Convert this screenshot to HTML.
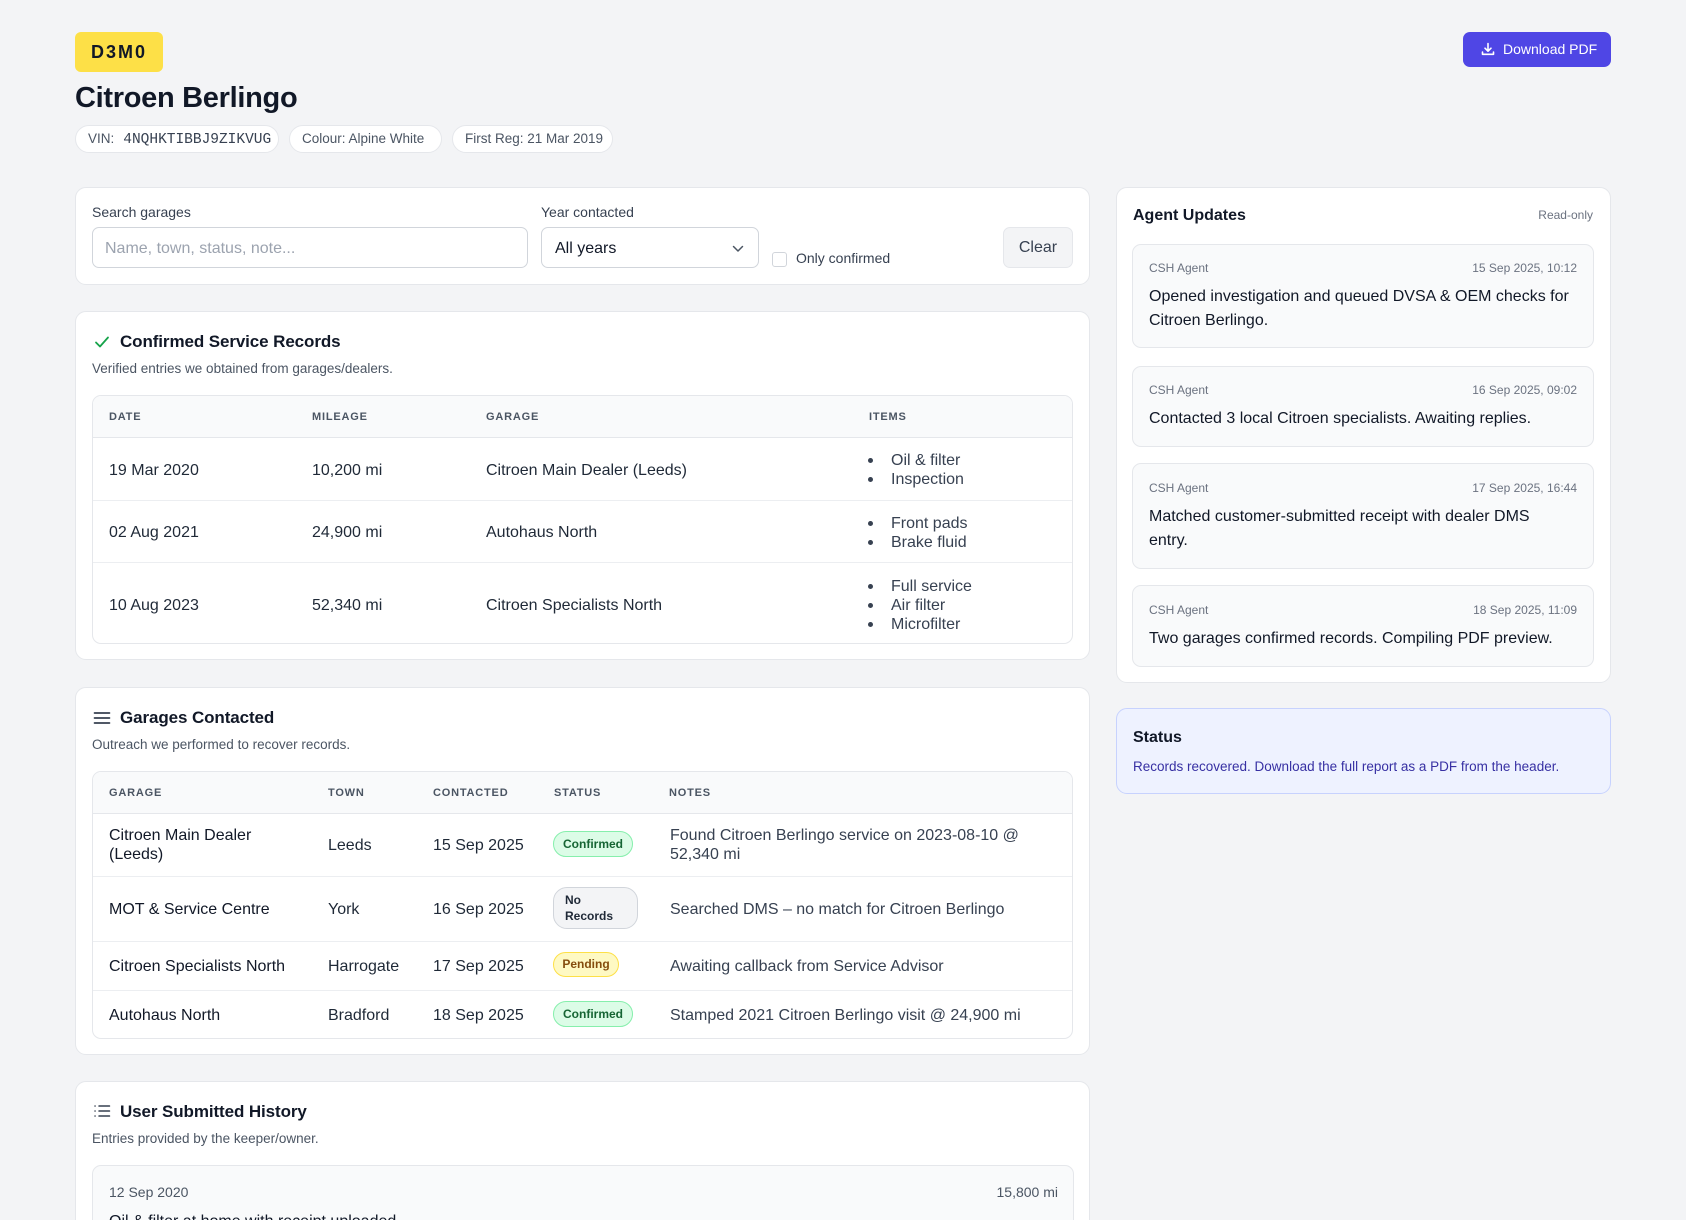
<!DOCTYPE html>
<html><head><meta charset="utf-8">
<style>
*{box-sizing:border-box;margin:0;padding:0}
html,body{width:1686px;height:1220px;overflow:hidden;background:#f3f4f6;font-family:"Liberation Sans",Arial,sans-serif;color:#111827}
#root{position:relative;width:1686px;height:1220px;overflow:hidden;background:#f3f4f6}
.a{position:absolute}
.t{position:absolute;white-space:nowrap}
.card{position:absolute;background:#fff;border:1px solid #e5e7eb;border-radius:11px}
.chip{position:absolute;top:125px;height:28px;background:#fff;border:1px solid #e5e7eb;border-radius:14px;font-size:13.5px;line-height:26px;color:#4b5563;padding-left:12px;white-space:nowrap}
.lbl{font-size:14px;line-height:18px;color:#374151}
.h2{font-size:17px;line-height:22px;font-weight:700;color:#111827;letter-spacing:-0.1px}
.sub{font-size:13.5px;line-height:18px;color:#4b5563}
.th{font-size:11px;line-height:14px;font-weight:700;letter-spacing:0.8px;color:#4b5563}
.td{font-size:16px;line-height:20px;color:#1f2937}
.tbl{position:absolute;border:1px solid #e5e7eb;border-radius:9px;background:#fff;overflow:hidden}
.thead{position:absolute;left:0;top:0;right:0;background:#f9fafb;border-bottom:1px solid #e5e7eb}
.sep{position:absolute;left:0;right:0;height:1px;background:#eceef1}
.bul{position:absolute;width:5px;height:5px;border-radius:50%;background:#374151}
.pill{position:absolute;border-radius:14px;font-size:12px;font-weight:700;line-height:16px;white-space:nowrap}
.pc{background:#dcfce7;border:1px solid #86efac;color:#166534}
.pp{background:#fef9c3;border:1px solid #fde047;color:#854d0e}
.pn{background:#f3f4f6;border:1px solid #d1d5db;color:#1f2937}
.upd{position:absolute;left:1132px;width:462px;background:#f9fafb;border:1px solid #e5e7eb;border-radius:9px}
.meta{font-size:12px;line-height:16px;color:#6b7280}
.ut{font-size:16px;line-height:24px;color:#111827}
</style></head><body>
<div id="root">

<!-- Header -->
<div class="a" style="left:75px;top:32px;width:88px;height:40px;background:#fde047;border-radius:6px;text-align:center;line-height:40px;font-size:18px;font-weight:700;letter-spacing:2px;color:#111827">D3M0</div>
<div class="t" style="left:75px;top:81px;font-size:29px;line-height:34px;font-weight:700;letter-spacing:-0.3px;color:#111827">Citroen Berlingo</div>

<div class="chip" style="left:75px;width:204px">VIN:<span style="font-family:'Liberation Mono',monospace;font-size:14.5px;margin-left:9px;color:#374151">4NQHKTIBBJ9ZIKVUG</span></div>
<div class="chip" style="left:289px;width:153px">Colour: Alpine White</div>
<div class="chip" style="left:452px;width:161px">First Reg: 21 Mar 2019</div>

<div class="a" style="left:1463px;top:32px;width:148px;height:35px;background:#4f46e5;border-radius:7px">
  <svg class="a" style="left:18px;top:10px" width="14" height="14" viewBox="0 0 14 14" fill="none" stroke="#fff" stroke-width="1.6" stroke-linecap="round" stroke-linejoin="round"><path d="M7 1.5v7.5M4 6.2l3 3 3-3M1.5 10v2.3h11V10"/></svg>
  <div class="t" style="left:40px;top:8px;font-size:14px;line-height:19px;color:#fff">Download PDF</div>
</div>

<!-- Filter card -->
<div class="card" style="left:75px;top:187px;width:1015px;height:98px"></div>
<div class="t lbl" style="left:92px;top:203px">Search garages</div>
<div class="a" style="left:92px;top:227px;width:436px;height:41px;border:1px solid #d1d5db;border-radius:7px;background:#fff"></div>
<div class="t" style="left:105px;top:239px;font-size:16px;line-height:20px;color:#9ca3af">Name, town, status, note...</div>
<div class="t lbl" style="left:541px;top:203px">Year contacted</div>
<div class="a" style="left:541px;top:227px;width:218px;height:41px;border:1px solid #d1d5db;border-radius:7px;background:#fff"></div>
<div class="t" style="left:555px;top:239px;font-size:16px;line-height:20px;color:#111827">All years</div>
<svg class="a" style="left:732px;top:244px" width="12" height="9" viewBox="0 0 12 9" fill="none" stroke="#4b5563" stroke-width="1.5" stroke-linecap="round" stroke-linejoin="round"><path d="M1.5 2.5l4.5 4.5 4.5-4.5"/></svg>
<div class="a" style="left:772px;top:252px;width:15px;height:15px;border:1px solid #d1d5db;border-radius:3px;background:#fff"></div>
<div class="t lbl" style="left:796px;top:249px">Only confirmed</div>
<div class="a" style="left:1003px;top:227px;width:70px;height:41px;background:#f3f4f6;border:1px solid #e5e7eb;border-radius:7px;text-align:center;font-size:16px;line-height:40px;color:#374151">Clear</div>

<!-- Confirmed Service Records -->
<div class="card" style="left:75px;top:311px;width:1015px;height:349px"></div>
<svg class="a" style="left:94px;top:335px" width="16" height="14" viewBox="0 0 16 14" fill="none" stroke="#16a34a" stroke-width="1.8" stroke-linecap="round" stroke-linejoin="round"><path d="M2 7.5l4 4 8-9"/></svg>
<div class="t h2" style="left:120px;top:331px">Confirmed Service Records</div>
<div class="t sub" style="left:92px;top:360px">Verified entries we obtained from garages/dealers.</div>

<div class="tbl" style="left:92px;top:395px;width:981px;height:249px">
  <div class="thead" style="height:42px"></div>
  <div class="sep" style="top:104px"></div>
  <div class="sep" style="top:166px"></div>
</div>
<div class="t th" style="left:109px;top:410px">DATE</div>
<div class="t th" style="left:312px;top:410px">MILEAGE</div>
<div class="t th" style="left:486px;top:410px">GARAGE</div>
<div class="t th" style="left:869px;top:410px">ITEMS</div>

<div class="t td" style="left:109px;top:461px">19 Mar 2020</div>
<div class="t td" style="left:312px;top:461px">10,200 mi</div>
<div class="t td" style="left:486px;top:461px">Citroen Main Dealer (Leeds)</div>
<div class="bul" style="left:868px;top:458px"></div><div class="t td" style="left:891px;top:451px;color:#374151">Oil &amp; filter</div>
<div class="bul" style="left:868px;top:477px"></div><div class="t td" style="left:891px;top:470px;color:#374151">Inspection</div>

<div class="t td" style="left:109px;top:523px">02 Aug 2021</div>
<div class="t td" style="left:312px;top:523px">24,900 mi</div>
<div class="t td" style="left:486px;top:523px">Autohaus North</div>
<div class="bul" style="left:868px;top:521px"></div><div class="t td" style="left:891px;top:514px;color:#374151">Front pads</div>
<div class="bul" style="left:868px;top:540px"></div><div class="t td" style="left:891px;top:533px;color:#374151">Brake fluid</div>

<div class="t td" style="left:109px;top:596px">10 Aug 2023</div>
<div class="t td" style="left:312px;top:596px">52,340 mi</div>
<div class="t td" style="left:486px;top:596px">Citroen Specialists North</div>
<div class="bul" style="left:868px;top:584px"></div><div class="t td" style="left:891px;top:577px;color:#374151">Full service</div>
<div class="bul" style="left:868px;top:603px"></div><div class="t td" style="left:891px;top:596px;color:#374151">Air filter</div>
<div class="bul" style="left:868px;top:622px"></div><div class="t td" style="left:891px;top:615px;color:#374151">Microfilter</div>

<!-- Garages Contacted -->
<div class="card" style="left:75px;top:687px;width:1015px;height:368px"></div>
<svg class="a" style="left:93px;top:710px" width="18" height="16" viewBox="0 0 18 16" fill="none" stroke="#374151" stroke-width="1.7" stroke-linecap="round"><path d="M1.5 3h15M1.5 8h15M1.5 13h15"/></svg>
<div class="t h2" style="left:120px;top:707px">Garages Contacted</div>
<div class="t sub" style="left:92px;top:736px">Outreach we performed to recover records.</div>

<div class="tbl" style="left:92px;top:771px;width:981px;height:268px">
  <div class="thead" style="height:42px"></div>
  <div class="sep" style="top:104px"></div>
  <div class="sep" style="top:169px"></div>
  <div class="sep" style="top:218px"></div>
</div>
<div class="t th" style="left:109px;top:786px">GARAGE</div>
<div class="t th" style="left:328px;top:786px">TOWN</div>
<div class="t th" style="left:433px;top:786px">CONTACTED</div>
<div class="t th" style="left:554px;top:786px">STATUS</div>
<div class="t th" style="left:669px;top:786px">NOTES</div>

<div class="a td" style="left:109px;top:826px;line-height:19px;color:#111827;white-space:nowrap">Citroen Main Dealer<br>(Leeds)</div>
<div class="t td" style="left:328px;top:836px">Leeds</div>
<div class="t td" style="left:433px;top:836px">15 Sep 2025</div>
<div class="pill pc" style="left:553px;top:831px;width:80px;height:26px;line-height:24px;text-align:center">Confirmed</div>
<div class="a td" style="left:670px;top:826px;line-height:19px;color:#374151;white-space:nowrap">Found Citroen Berlingo service on 2023-08-10 @<br>52,340 mi</div>

<div class="t td" style="left:109px;top:900px;color:#111827">MOT &amp; Service Centre</div>
<div class="t td" style="left:328px;top:900px">York</div>
<div class="t td" style="left:433px;top:900px">16 Sep 2025</div>
<div class="pill pn" style="left:553px;top:887px;width:85px;height:42px;padding:4px 0 0 11px">No<br>Records</div>
<div class="t td" style="left:670px;top:900px;color:#374151">Searched DMS – no match for Citroen Berlingo</div>

<div class="t td" style="left:109px;top:957px;color:#111827">Citroen Specialists North</div>
<div class="t td" style="left:328px;top:957px">Harrogate</div>
<div class="t td" style="left:433px;top:957px">17 Sep 2025</div>
<div class="pill pp" style="left:553px;top:952px;width:66px;height:25px;line-height:23px;text-align:center">Pending</div>
<div class="t td" style="left:670px;top:957px;color:#374151">Awaiting callback from Service Advisor</div>

<div class="t td" style="left:109px;top:1006px;color:#111827">Autohaus North</div>
<div class="t td" style="left:328px;top:1006px">Bradford</div>
<div class="t td" style="left:433px;top:1006px">18 Sep 2025</div>
<div class="pill pc" style="left:553px;top:1001px;width:80px;height:26px;line-height:24px;text-align:center">Confirmed</div>
<div class="t td" style="left:670px;top:1006px;color:#374151">Stamped 2021 Citroen Berlingo visit @ 24,900 mi</div>

<!-- User Submitted History -->
<div class="card" style="left:75px;top:1081px;width:1015px;height:180px"></div>
<svg class="a" style="left:93px;top:1103px" width="18" height="16" viewBox="0 0 18 16" fill="none" stroke="#374151" stroke-width="1.5" stroke-linecap="round"><path d="M2 3h.1M2 8h.1M2 13h.1M6 3h10.5M6 8h10.5M6 13h10.5"/></svg>
<div class="t h2" style="left:120px;top:1101px">User Submitted History</div>
<div class="t sub" style="left:92px;top:1130px">Entries provided by the keeper/owner.</div>
<div class="a" style="left:92px;top:1165px;width:982px;height:90px;background:#f9fafb;border:1px solid #e5e7eb;border-radius:9px"></div>
<div class="t" style="left:109px;top:1183px;font-size:14px;line-height:18px;color:#4b5563">12 Sep 2020</div>
<div class="t" style="right:628px;top:1183px;font-size:14px;line-height:18px;color:#4b5563">15,800 mi</div>
<div class="t td" style="left:109px;top:1212px;color:#111827">Oil &amp; filter at home with receipt uploaded</div>

<!-- Agent Updates -->
<div class="card" style="left:1116px;top:187px;width:495px;height:496px"></div>
<div class="t" style="left:1133px;top:206px;font-size:16px;line-height:20px;font-weight:700;color:#111827">Agent Updates</div>
<div class="t meta" style="right:93px;top:207px">Read-only</div>

<div class="upd" style="top:244px;height:104px"></div>
<div class="t meta" style="left:1149px;top:260px">CSH Agent</div>
<div class="t meta" style="right:109px;top:260px">15 Sep 2025, 10:12</div>
<div class="a ut" style="left:1149px;top:285px;white-space:nowrap">Opened investigation and queued DVSA &amp; OEM checks for<br>Citroen Berlingo.</div>

<div class="upd" style="top:366px;height:81px"></div>
<div class="t meta" style="left:1149px;top:382px">CSH Agent</div>
<div class="t meta" style="right:109px;top:382px">16 Sep 2025, 09:02</div>
<div class="t ut" style="left:1149px;top:407px">Contacted 3 local Citroen specialists. Awaiting replies.</div>

<div class="upd" style="top:463px;height:106px"></div>
<div class="t meta" style="left:1149px;top:480px">CSH Agent</div>
<div class="t meta" style="right:109px;top:480px">17 Sep 2025, 16:44</div>
<div class="a ut" style="left:1149px;top:505px;white-space:nowrap">Matched customer-submitted receipt with dealer DMS<br>entry.</div>

<div class="upd" style="top:585px;height:82px"></div>
<div class="t meta" style="left:1149px;top:602px">CSH Agent</div>
<div class="t meta" style="right:109px;top:602px">18 Sep 2025, 11:09</div>
<div class="t ut" style="left:1149px;top:627px">Two garages confirmed records. Compiling PDF preview.</div>

<!-- Status -->
<div class="a" style="left:1116px;top:708px;width:495px;height:86px;background:#eef2ff;border:1px solid #c7d2fe;border-radius:11px"></div>
<div class="t" style="left:1133px;top:728px;font-size:16px;line-height:20px;font-weight:700;color:#111827">Status</div>
<div class="t" style="left:1133px;top:758px;font-size:13.5px;line-height:18px;color:#3730a3">Records recovered. Download the full report as a PDF from the header.</div>

</div>
</body></html>
